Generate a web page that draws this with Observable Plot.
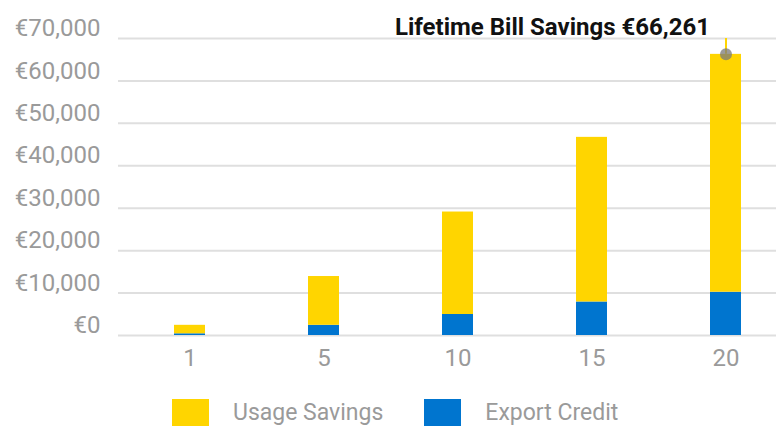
<!DOCTYPE html>
<html>
<head>
<meta charset="utf-8">
<script src="https://cdn.jsdelivr.net/npm/d3@7"></script>
<script src="https://cdn.jsdelivr.net/npm/@observablehq/plot@0.6"></script>
<style>
  body { margin: 0; background: #fff; overflow: hidden; width: 776px; height: 426px; position: relative; }
  #chart svg { display: block; }
  #legend { position: absolute; left: 172px; top: 399px; }
  body .lg-swatches-wrap { min-height: 0; margin: 0; font-family: Roboto, sans-serif; font-size: 23px; color: #9a9a9a; align-items: flex-start; }
  body .lg-swatches-wrap .lg-swatch { margin-right: 41px; align-items: flex-start; line-height: 28px; }
  body .lg-swatch > svg { margin-right: 24px; }
</style>
</head>
<body>
<div id="chart"></div>
<div id="legend"></div>
<script>
const years = ["1", "5", "10", "15", "20"];
const exportCredit = [400, 2400, 4950, 7900, 10200];
const usageSavings = [2000, 11500, 24150, 38800, 56061];
const seriesNames = ["Usage Savings", "Export Credit"];
const seriesColors = ["#FFD500", "#0075CF"];
const yTicks = [0, 10000, 20000, 30000, 40000, 50000, 60000, 70000];
const totalLifetime = 66261;
const annotationText = "Lifetime Bill Savings €66,261";

const rows = [];
years.forEach((y, i) => {
  rows.push({year: y, series: "Export Credit", value: exportCredit[i]});
  rows.push({year: y, series: "Usage Savings", value: usageSavings[i]});
});

const H = 395;
const fmt = d => "€" + d3.format(",")(d);

const chart = Plot.plot({
  width: 776,
  height: H,
  marginLeft: 118,
  marginRight: 0,
  marginTop: 38,
  marginBottom: H - 335,
  style: {fontFamily: "Roboto, sans-serif", background: "#fff"},
  x: {domain: years, range: [118, 796], paddingInner: 0.77, paddingOuter: 0.4, align: 0.5},
  y: {domain: [0, 70000]},
  color: {domain: seriesNames, range: seriesColors},
  marks: [
    Plot.gridY(yTicks, {stroke: "#dfdfdf", strokeOpacity: 1, strokeWidth: 2}),
    Plot.axisY(yTicks, {tickSize: 0, tickPadding: 18, tickFormat: fmt, fontSize: 24, fill: "#9a9a9a", dy: -10, label: null}),
    Plot.axisX({tickSize: 0, tickPadding: 13, fontSize: 24, fill: "#9a9a9a", label: null}),
    Plot.barY(rows, {x: "year", y: "value", fill: "series", order: ["Export Credit", "Usage Savings"]}),
    Plot.ruleX([years[years.length - 1]], {y1: totalLifetime, y2: 70000, stroke: "#FFD500", strokeWidth: 2}),
    Plot.dot([{year: years[years.length - 1], v: totalLifetime}], {x: "year", y: "v", r: 6, fill: "#7a7a7a", fillOpacity: 0.75, stroke: "none"}),
    Plot.text([annotationText], {x: () => years[years.length - 1], y: () => 70000, text: d => d, textAnchor: "end", dx: -16, dy: -11, fontSize: 24, fontWeight: "bold", fill: "#111"})
  ]
});
document.getElementById("chart").appendChild(chart);

const legend = Plot.legend({
  color: {domain: seriesNames, range: seriesColors},
  legend: "swatches",
  className: "lg",
  swatchWidth: 37,
  swatchHeight: 37
});
document.getElementById("legend").appendChild(legend);
</script>
</body>
</html>
